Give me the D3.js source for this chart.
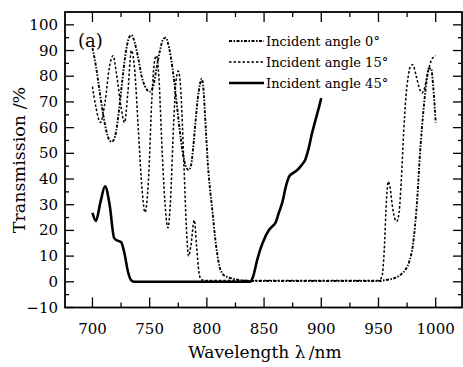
<!DOCTYPE html>
<html>
<head>
<meta charset="utf-8">
<script src="https://cdn.jsdelivr.net/npm/d3@7"></script>
<style>
  body { margin: 0; background: #fff; }
  text { font-family: "DejaVu Serif", serif; fill: #000; }
</style>
</head>
<body>
<svg id="chart" width="463" height="367"></svg>
<script>
// incident angle 0 deg
const wl0 = [700, 703, 706, 709, 712, 715, 717, 720, 723, 726, 729, 732, 734, 737, 740, 743, 746, 750, 753, 756, 759, 762, 764, 767, 770, 773, 776, 779, 782, 784, 786, 788, 790, 792, 794, 795.5, 797, 799, 801, 803, 805, 807, 809, 811, 814, 818, 823, 830, 840, 900, 950, 955, 960, 965, 970, 974, 977, 980, 982, 984, 986, 988, 990, 992, 994, 996, 998, 1000];
const t0 = [91, 84, 75, 66, 59, 55, 54.5, 57, 66, 78, 89, 95, 96, 93, 87, 80, 76, 74, 76, 83, 90, 94.5, 95, 91, 83, 72, 60, 50, 44.5, 43.5, 45, 52, 62, 71, 77, 79, 75, 60, 45, 35, 27, 18, 11, 6, 3, 1.8, 1.2, 0.6, 0.3, 0.3, 0.3, 0.6, 1, 1.6, 3, 5, 8, 14, 22, 33, 48, 60, 70, 78, 83, 83, 75, 62];

// incident angle 15 deg
const wl15 = [700, 703, 707, 711, 715, 718, 721, 725, 728, 731, 734, 737, 740, 743, 746, 749, 752, 754, 756, 758, 761, 764, 766, 768, 771, 773, 775, 777, 780, 782, 784, 786, 789, 791, 793, 795, 800, 850, 900, 950, 953, 955, 957, 958.5, 960, 962, 964, 966, 968, 970, 972, 974, 976, 978, 980, 983, 986, 988, 990, 993, 996, 1000];
const t15 = [76, 68, 62, 70, 84, 88, 81, 68, 62, 74, 90, 82, 60, 38, 27, 40, 72, 85, 88, 80, 50, 27, 21, 30, 62, 78, 82, 76, 45, 22, 10, 14, 24, 14, 4, 0.8, 0.5, 0.5, 0.5, 0.5, 2, 12, 32, 39, 37, 30, 25, 23.5, 27, 40, 58, 72, 80, 84, 84.5, 80, 75, 73.5, 75, 81, 86, 88];

// incident angle 45 deg
const wl45 = [700, 703, 707, 711, 715, 719, 722, 725, 728, 731, 734, 737, 760, 800, 838, 840, 844, 847, 850, 854, 857, 860, 863, 866, 869, 872, 876, 879, 883, 886, 889, 892, 895, 898, 900];
const t45 = [26.8, 23.7, 31, 37.2, 30, 17, 16, 15.5, 11, 4, 0.5, 0, 0, 0, 0, 1.5, 8.5, 13, 16.5, 20, 21.5, 23, 27, 31, 37, 41, 42.5, 43.5, 45.5, 47.5, 52, 58, 63, 68, 71.5];

const xTicks = [700, 750, 800, 850, 900, 950, 1000];
const yTicks = [-10, 0, 10, 20, 30, 40, 50, 60, 70, 80, 90, 100];
const legendLabels = ["Incident angle 0°", "Incident angle 15°", "Incident angle 45°"];

const svg = d3.select('#chart');
const pl = 65, pr = 462, pt = 12, pb = 307.5;

const x = d3.scaleLinear().domain([676, 1023]).range([pl, pr]);
const y = d3.scaleLinear().domain([-10, 105]).range([pb, pt]);

const series = [
  { wl: wl0, t: t0, dash: '3,1.5,1.5,1.5', width: 1.9 },
  { wl: wl15, t: t15, dash: '2.5,2', width: 1.5 },
  { wl: wl45, t: t45, dash: null, width: 2.6 }
];

const line = d3.line()
  .x(d => x(d[0]))
  .y(d => y(d[1]))
  .curve(d3.curveMonotoneX);

const plot = svg.append('g');
series.forEach(s => {
  plot.append('path')
    .datum(s.wl.map((w, i) => [w, s.t[i]]))
    .attr('fill', 'none')
    .attr('stroke', '#000')
    .attr('stroke-width', s.width)
    .attr('stroke-dasharray', s.dash)
    .attr('d', line);
});

// ticks, all pointing inward
const xMinor = d3.range(700, 1001, 25).filter(v => v % 50 !== 0);
const yMinor = d3.range(-5, 105, 10);

const tg = svg.append('g').attr('stroke', '#000').attr('stroke-width', 1.3);
xTicks.forEach(v => {
  tg.append('line').attr('x1', x(v)).attr('x2', x(v)).attr('y1', pb).attr('y2', pb - 10);
  tg.append('line').attr('x1', x(v)).attr('x2', x(v)).attr('y1', pt).attr('y2', pt + 10);
});
xMinor.forEach(v => {
  tg.append('line').attr('x1', x(v)).attr('x2', x(v)).attr('y1', pb).attr('y2', pb - 5);
  tg.append('line').attr('x1', x(v)).attr('x2', x(v)).attr('y1', pt).attr('y2', pt + 5);
});
yTicks.forEach(v => {
  tg.append('line').attr('x1', pl).attr('x2', pl + 9).attr('y1', y(v)).attr('y2', y(v));
  tg.append('line').attr('x1', pr).attr('x2', pr - 9).attr('y1', y(v)).attr('y2', y(v));
});
yMinor.forEach(v => {
  tg.append('line').attr('x1', pl).attr('x2', pl + 4).attr('y1', y(v)).attr('y2', y(v));
  tg.append('line').attr('x1', pr).attr('x2', pr - 4).attr('y1', y(v)).attr('y2', y(v));
});

svg.append('rect')
  .attr('x', pl).attr('y', pt)
  .attr('width', pr - pl).attr('height', pb - pt)
  .attr('fill', 'none').attr('stroke', '#000').attr('stroke-width', 1.8);

// tick labels
svg.append('g').selectAll('text').data(xTicks).join('text')
  .attr('x', d => x(d)).attr('y', 334)
  .attr('text-anchor', 'middle').attr('font-size', 15)
  .text(d => d);

svg.append('g').selectAll('text').data(yTicks).join('text')
  .attr('x', 58).attr('y', d => y(d) + 5)
  .attr('text-anchor', 'end').attr('font-size', 15)
  .text(d => d < 0 ? '\u2212' + Math.abs(d) : d);

svg.append('text')
  .attr('x', 265).attr('y', 358)
  .attr('text-anchor', 'middle').attr('font-size', 17)
  .text('Wavelength λ\u2009/nm');

svg.append('text')
  .attr('transform', 'translate(25,160) rotate(-90)')
  .attr('text-anchor', 'middle').attr('font-size', 17.5)
  .text('Transmission /%');

svg.append('text')
  .attr('x', 78).attr('y', 47).attr('font-size', 18)
  .text('(a)');

// legend
const lg = svg.append('g');
legendLabels.forEach((label, i) => {
  const ly = 41 + i * 21;
  lg.append('line')
    .attr('x1', 229).attr('x2', 264).attr('y1', ly).attr('y2', ly)
    .attr('stroke', '#000')
    .attr('stroke-width', series[i].width)
    .attr('stroke-dasharray', series[i].dash);
  lg.append('text')
    .attr('x', 266).attr('y', ly + 5).attr('font-size', 13)
    .text(label);
});
</script>
</body>
</html>
